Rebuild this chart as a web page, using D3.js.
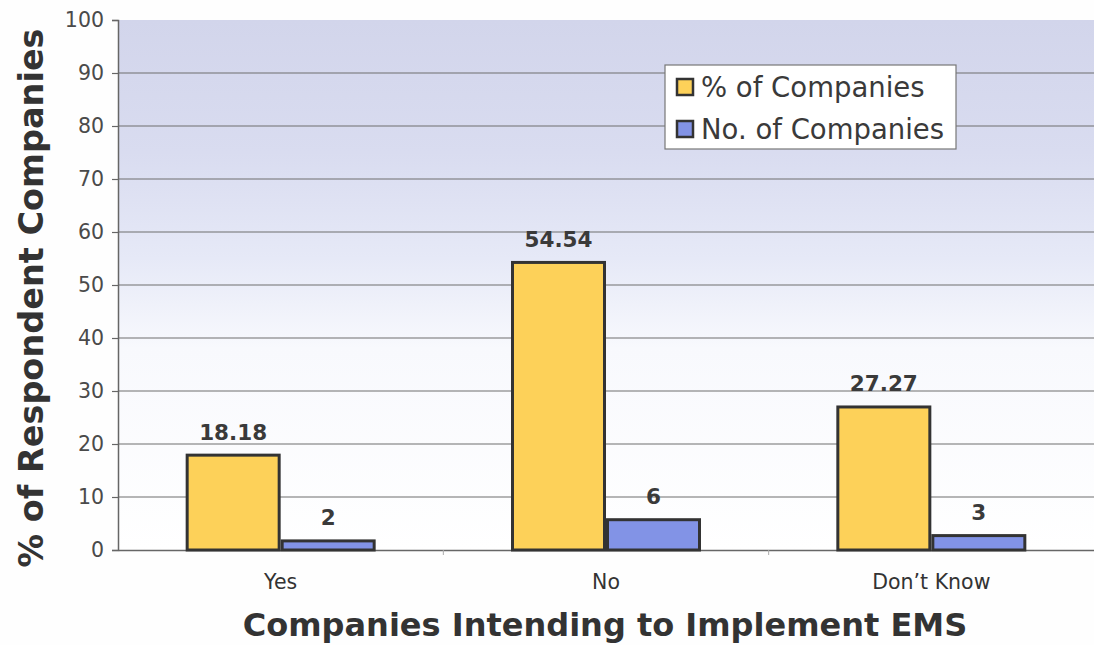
<!DOCTYPE html>
<html>
<head>
<meta charset="utf-8">
<script src="https://cdn.jsdelivr.net/npm/d3@7"></script>
<style>
  html, body { margin: 0; padding: 0; background: #fefefe; }
  svg { display: block; }
</style>
</head>
<body>
<svg id="chart" width="1094" height="645"></svg>
<script>
// Survey: intention to implement an EMS
const categories = ["Yes", "No", "Don\u2019t Know"];
const seriesNames = ["% of Companies", "No. of Companies"];
const pctCompanies = [18.18, 54.54, 27.27];
const numCompanies = [2, 6, 3];
const yTicks = [0, 10, 20, 30, 40, 50, 60, 70, 80, 90, 100];

const colors = ["#fdd159", "#8293e6"];
const font = "Verdana, 'DejaVu Sans', sans-serif";

const W = 1094, H = 645;
const margin = { top: 20, right: 0, bottom: 95, left: 118 };
const innerW = W - margin.left - margin.right;
const innerH = H - margin.top - margin.bottom;

const svg = d3.select("#chart");

// background gradient of the plot area
const defs = svg.append("defs");
const grad = defs.append("linearGradient")
  .attr("id", "plotBg").attr("x1", 0).attr("y1", 0).attr("x2", 0).attr("y2", 1);
grad.append("stop").attr("offset", "0%").attr("stop-color", "#d2d5eb");
grad.append("stop").attr("offset", "25%").attr("stop-color", "#d9dcf0");
grad.append("stop").attr("offset", "45%").attr("stop-color", "#e6e9f7");
grad.append("stop").attr("offset", "62%").attr("stop-color", "#f8f9fd");
grad.append("stop").attr("offset", "100%").attr("stop-color", "#ffffff");

const g = svg.append("g").attr("transform", `translate(${margin.left},${margin.top})`);

const x0 = d3.scaleBand().domain(categories).range([0, innerW]).paddingInner(0).paddingOuter(0);
const x1 = d3.scaleBand().domain(seriesNames).range([0, 190]).padding(0);
const y = d3.scaleLinear().domain([0, 100]).range([innerH, 0]);

g.append("rect")
  .attr("x", 0).attr("y", 0)
  .attr("width", innerW).attr("height", innerH)
  .attr("fill", "url(#plotBg)");

// horizontal gridlines
g.append("g")
  .selectAll("line")
  .data(yTicks.filter(t => t > 0 && t < 100))
  .join("line")
  .attr("x1", 0).attr("x2", innerW)
  .attr("y1", d => y(d)).attr("y2", d => y(d))
  .attr("stroke", "#6e6e6e").attr("stroke-width", 1.2);

// y axis
const yAxis = g.append("g")
  .call(d3.axisLeft(y).tickValues(yTicks).tickSize(6).tickPadding(8).tickFormat(d3.format("d")));
yAxis.select(".domain").attr("stroke", "#666").attr("stroke-width", 1.5);
yAxis.selectAll(".tick line").attr("stroke", "#666").attr("stroke-width", 1.2);
yAxis.selectAll(".tick text")
  .attr("font-family", font).attr("font-size", 20.5).attr("fill", "#4a4a4a");

// x axis
const xAxis = g.append("g")
  .attr("transform", `translate(0,${innerH})`)
  .call(d3.axisBottom(x0).tickSize(0).tickPadding(24));
xAxis.select(".domain").attr("stroke", "#666").attr("stroke-width", 1.5);
xAxis.selectAll(".tick text")
  .attr("font-family", font).attr("font-size", 20.5).attr("fill", "#333");
// category separators
g.append("g")
  .selectAll("line")
  .data(categories.slice(1))
  .join("line")
  .attr("x1", d => x0(d)).attr("x2", d => x0(d))
  .attr("y1", innerH).attr("y2", innerH + 5)
  .attr("stroke", "#aaa").attr("stroke-width", 1);

// bars
const rows = categories.map((c, i) => ({ cat: c, values: [pctCompanies[i], numCompanies[i]] }));
const groups = g.append("g")
  .selectAll("g")
  .data(rows)
  .join("g")
  .attr("transform", d => `translate(${x0(d.cat) + x0.bandwidth() / 2 - 95},0)`);

groups.selectAll("rect")
  .data(d => d.values.map((v, k) => ({ name: seriesNames[k], v, k })))
  .join("rect")
  .attr("x", d => x1(d.name) + 1.5)
  .attr("width", x1.bandwidth() - 3)
  .attr("y", d => y(d.v) + 1.5)
  .attr("height", d => Math.max(0, y(0) - y(d.v) - 1.5))
  .attr("fill", d => colors[d.k])
  .attr("stroke", "#333")
  .attr("stroke-width", 3);

// value labels
const fmt = [d => d3.format(".2f")(d), d => d3.format("d")(d)];
groups.selectAll("text.val")
  .data(d => d.values.map((v, k) => ({ name: seriesNames[k], v, k })))
  .join("text")
  .attr("class", "val")
  .attr("x", d => x1(d.name) + x1.bandwidth() / 2)
  .attr("y", d => y(d.v) - 14)
  .attr("text-anchor", "middle")
  .attr("font-family", font).attr("font-weight", "bold")
  .attr("font-size", 21.5).attr("fill", "#3a3a3a")
  .text(d => fmt[d.k](d.v));

// legend
const legend = svg.append("g").attr("transform", "translate(665,65)");
legend.append("rect")
  .attr("width", 291).attr("height", 84)
  .attr("fill", "#ffffff").attr("stroke", "#777").attr("stroke-width", 1.2);
seriesNames.forEach((name, i) => {
  const row = legend.append("g").attr("transform", `translate(12,${22 + i * 42})`);
  row.append("rect")
    .attr("x", 0).attr("y", -8).attr("width", 16).attr("height", 16)
    .attr("fill", colors[i]).attr("stroke", "#333").attr("stroke-width", 2.5);
  row.append("text")
    .attr("x", 24).attr("y", 0).attr("dy", "0.36em")
    .attr("font-family", font).attr("font-size", 27.5).attr("fill", "#3a3a3a")
    .text(name);
});

// axis titles
svg.append("text")
  .attr("transform", `translate(43,298) rotate(-90)`)
  .attr("text-anchor", "middle")
  .attr("font-family", font).attr("font-weight", "bold")
  .attr("font-size", 33.5).attr("fill", "#333")
  .text("% of Respondent Companies");

svg.append("text")
  .attr("x", 605).attr("y", 636)
  .attr("text-anchor", "middle")
  .attr("font-family", font).attr("font-weight", "bold")
  .attr("font-size", 32).attr("fill", "#333")
  .text("Companies Intending to Implement EMS");
</script>
</body>
</html>
